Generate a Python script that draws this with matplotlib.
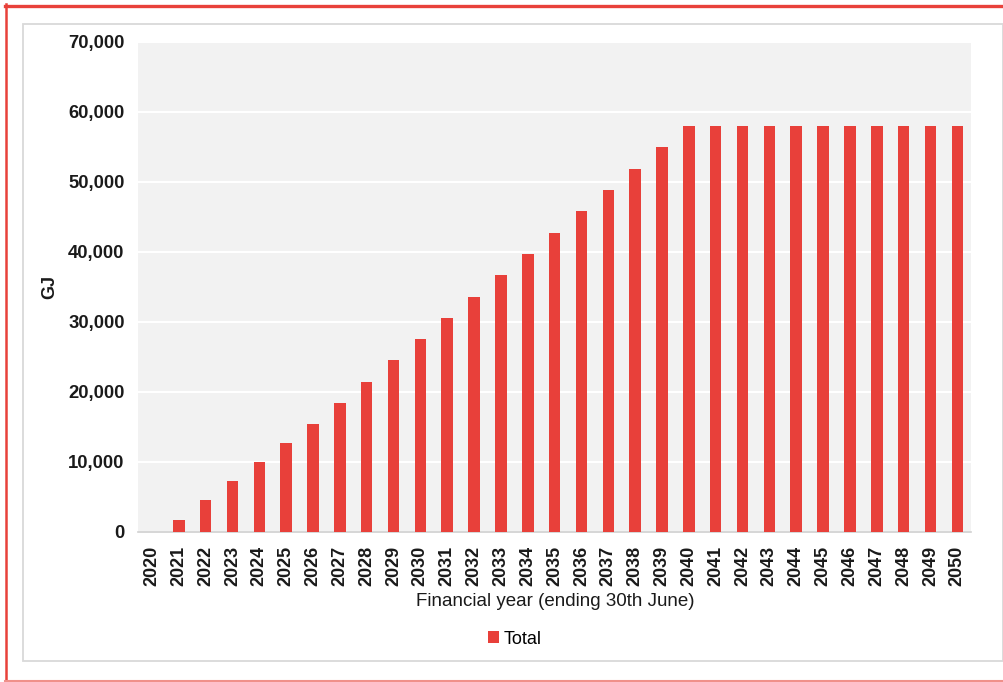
import numpy as np
import matplotlib.pyplot as plt
from matplotlib.patches import Rectangle
from matplotlib.lines import Line2D

plt.rcParams['font.family'] = ['Liberation Sans', 'DejaVu Sans']

years = [str(y) for y in range(2020, 2051)]
total = [0, 1750, 4500, 7250, 10000, 12700, 15400, 18400, 21450, 24500,
         27550, 30550, 33600, 36650, 39650, 42700, 45750, 48800, 51850, 54900,
         58000, 58000, 58000, 58000, 58000, 58000, 58000, 58000, 58000, 58000, 58000]
yticks = [0, 10000, 20000, 30000, 40000, 50000, 60000, 70000]

W, H = 1004, 682
fig = plt.figure(figsize=(W / 100, H / 100), dpi=100)

# frame lines given in pixel coords, converted to figure fractions
def px_line(xs, ys, **kw):
    fig.lines.append(Line2D([v / W for v in xs], [1 - v / H for v in ys],
                            transform=fig.transFigure, **kw))

px_line([6, 6], [4, 681], color='#e8413a', linewidth=1.8)
px_line([5, 1004], [5.5, 5.5], color='#e8413a', linewidth=2.4)
px_line([5, 1004], [681, 681], color='#f0908a', linewidth=1.5)
fig.patches.append(Rectangle((22.5 / W, 1 - 660.5 / H), (1003 - 22.5) / W, (660.5 - 23.5) / H,
                             transform=fig.transFigure, fill=False,
                             edgecolor='#d9d9d9', linewidth=1.3))

ax = fig.add_axes([138.5 / W, 1 - 532 / H, (970.7 - 138.5) / W, (532 - 41.5) / H])
ax.set_facecolor('#f2f2f2')
x = np.arange(len(years))
ax.bar(x, total, width=0.43, color='#e8403a', label='Total', zorder=3)

ax.set_xlim(-0.5, len(years) - 0.5)
ax.set_ylim(0, 70000)
ax.set_yticks(yticks)
ax.set_yticklabels(['{:,}'.format(v) for v in yticks], fontsize=13.3, fontweight='bold', color='#1a1a1a')
ax.set_xticks(x)
ax.set_xticklabels(years, rotation=90, fontsize=13, fontweight='bold', color='#1a1a1a')
ax.tick_params(length=0)
ax.tick_params(axis='x', pad=10)
ax.tick_params(axis='y', pad=10)
ax.grid(axis='y', color='white', linewidth=1.5, zorder=0)
for s in ['top', 'right', 'left']:
    ax.spines[s].set_visible(False)
ax.spines['bottom'].set_color('#d0d0d0')
ax.spines['bottom'].set_linewidth(1.2)

fig.text(50 / W, 1 - 287 / H, 'GJ', rotation=90, ha='center', va='center',
         fontsize=13, fontweight='bold', color='#1a1a1a')
fig.text(555 / W, 1 - 602 / H, 'Financial year (ending 30th June)', ha='center', va='center',
         fontsize=13.5, color='#1a1a1a')

fig.legend(loc='center', bbox_to_anchor=(515 / W, 1 - 639 / H), frameon=False,
           fontsize=13, handlelength=0.6, handleheight=0.6, handletextpad=0.3)

fig.savefig('out.png', dpi=100)
